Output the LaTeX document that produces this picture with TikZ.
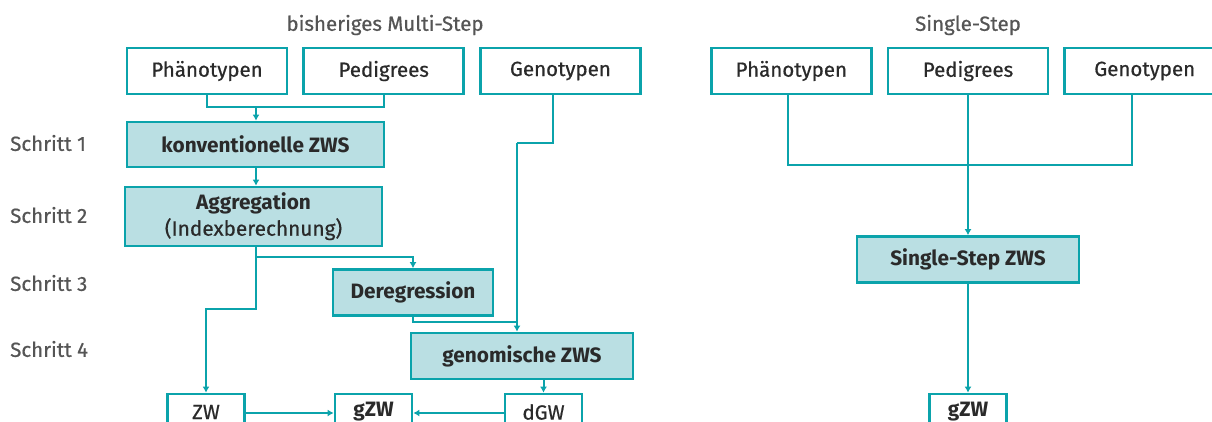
\documentclass[tikz,border=0pt]{standalone}
\usepackage{fontspec}
\setmainfont{Fira Sans}[UprightFeatures={FakeBold=0.6}]
\usepackage{xcolor}
\usetikzlibrary{arrows.meta,calc,positioning}
\definecolor{zwsteal}{HTML}{0BA3AB}
\definecolor{zwsfill}{HTML}{BADFE3}
\definecolor{zwstext}{HTML}{2A2A2A}
\definecolor{zwsgray}{HTML}{555555}
\tikzset{%
	datenbox/.style = {draw=zwsteal, line width=2.7pt, fill=white, rectangle, inner sep=0pt, minimum width=160pt, minimum height=46pt, text=zwstext, font=\fontsize{20.5}{26}\selectfont}, % Daten
	zwsbox/.style   = {datenbox, fill=zwsfill, font=\fontsize{20.8}{26}\selectfont\bfseries}, % Rechenschritt
	ergbox/.style   = {datenbox, minimum width=77pt, minimum height=36pt}, % Ergebnis
	schritt/.style  = {anchor=west, inner sep=0pt, text=zwsgray, font=\fontsize{20.5}{22}\selectfont},
	titel/.style    = {text=zwsgray, font=\fontsize{20.5}{22}\selectfont},
	pfeil/.style    = {draw=zwsteal, line width=2pt, -{Latex[length=6pt,width=7pt]}},
	linie/.style    = {draw=zwsteal, line width=2pt},
}
\begin{document}
\begin{tikzpicture}[x=1pt,y=-1pt]
	\clip (0,0) rectangle (1212,421);
	% Multi-Step
	\node [titel] (titelA) at (385,25) {bisheriges Multi-Step};
	\node [datenbox] (phA) at (207,71) {Phänotypen};
	\node [datenbox] (pedA) [right=14pt of phA] {Pedigrees};
	\node [datenbox] (genA) [right=14pt of pedA] {Genotypen};
	\node [zwsbox, minimum width=257pt, minimum height=45pt] (konv) at (255.5,144.5) {konventionelle ZWS};
	\node [zwsbox, minimum width=257pt, minimum height=59pt, align=center] (aggr) at (253.5,216.5) {Aggregation\\{\mdseries(Indexberechnung)}};
	\node [zwsbox] (dereg) at (413,292.5) {Deregression};
	\node [zwsbox, minimum width=222pt] (genom) at (522,356) {genomische ZWS};
	\node [ergbox] (zw) at (206,412) {ZW};
	\node [ergbox, font=\fontsize{20.8}{26}\selectfont\bfseries] (gzw) at (373.5,412) {gZW};
	\node [ergbox] (dgw) at (543.5,412) {dGW};
	
	\node [schritt] (s1) at (10,143) {Schritt 1};
	\node [schritt] (s2) at (10,215) {Schritt 2};
	\node [schritt] (s3) at (10,283) {Schritt 3};
	\node [schritt] (s4) at (10,349) {Schritt 4};
	
	\coordinate (j1) at (256,107);
	\coordinate (j2) at (256,257);
	\coordinate (j3) at (256,309);
	\coordinate (j4) at (517,143);
	\coordinate (j5) at (517,322);
	
	\draw[linie] (phA.south) |- (j1) -| (pedA.south);
	\draw[pfeil] (j1) -- (j1 |- konv.north);
	\draw[pfeil] (j1 |- konv.south) -- (j1 |- aggr.north);
	\draw[linie] (j2 |- aggr.south) -- (j2);
	\draw[pfeil] (j2) -| (dereg.north);
	\draw[pfeil] (j2) -- (j3) -| (zw.north);
	\draw[linie] ([xshift=-7pt]genA.south) |- (j4);
	\draw[pfeil] (j4) -- (j4 |- genom.north);
	\draw[linie] (dereg.south) |- (j5);
	\draw[pfeil] (dgw.north |- genom.south) -- (dgw.north);
	\draw[pfeil] ([yshift=-1pt]zw.east) -- ([yshift=-1pt]gzw.west);
	\draw[pfeil] ([yshift=-1pt]dgw.west) -- ([yshift=-1pt]gzw.east);
	
	% Single-Step
	\node [titel] (titelB) at (968,25) {Single-Step};
	\node [datenbox] (pedB) at (968,71) {Pedigrees};
	\node [datenbox] (phB) [left=14pt of pedB] {Phänotypen};
	\node [datenbox] (genB) [right=14pt of pedB] {Genotypen};
	\node [zwsbox, minimum width=222pt] (ssz) at (968,259.5) {Single-Step ZWS};
	\node [ergbox, font=\fontsize{20.8}{26}\selectfont\bfseries] (gzwB) at (968,412) {gZW};
	
	\coordinate (j6) at (788,165);
	\coordinate (j7) at (1131.5,165);
	\draw[linie] (j6 |- phB.south) -- (j6) -- (j7) -- (j7 |- genB.south);
	\draw[pfeil] (pedB.south) -- (ssz.north);
	\draw[pfeil] (ssz.south) -- (gzwB.north);
\end{tikzpicture}
\end{document}
